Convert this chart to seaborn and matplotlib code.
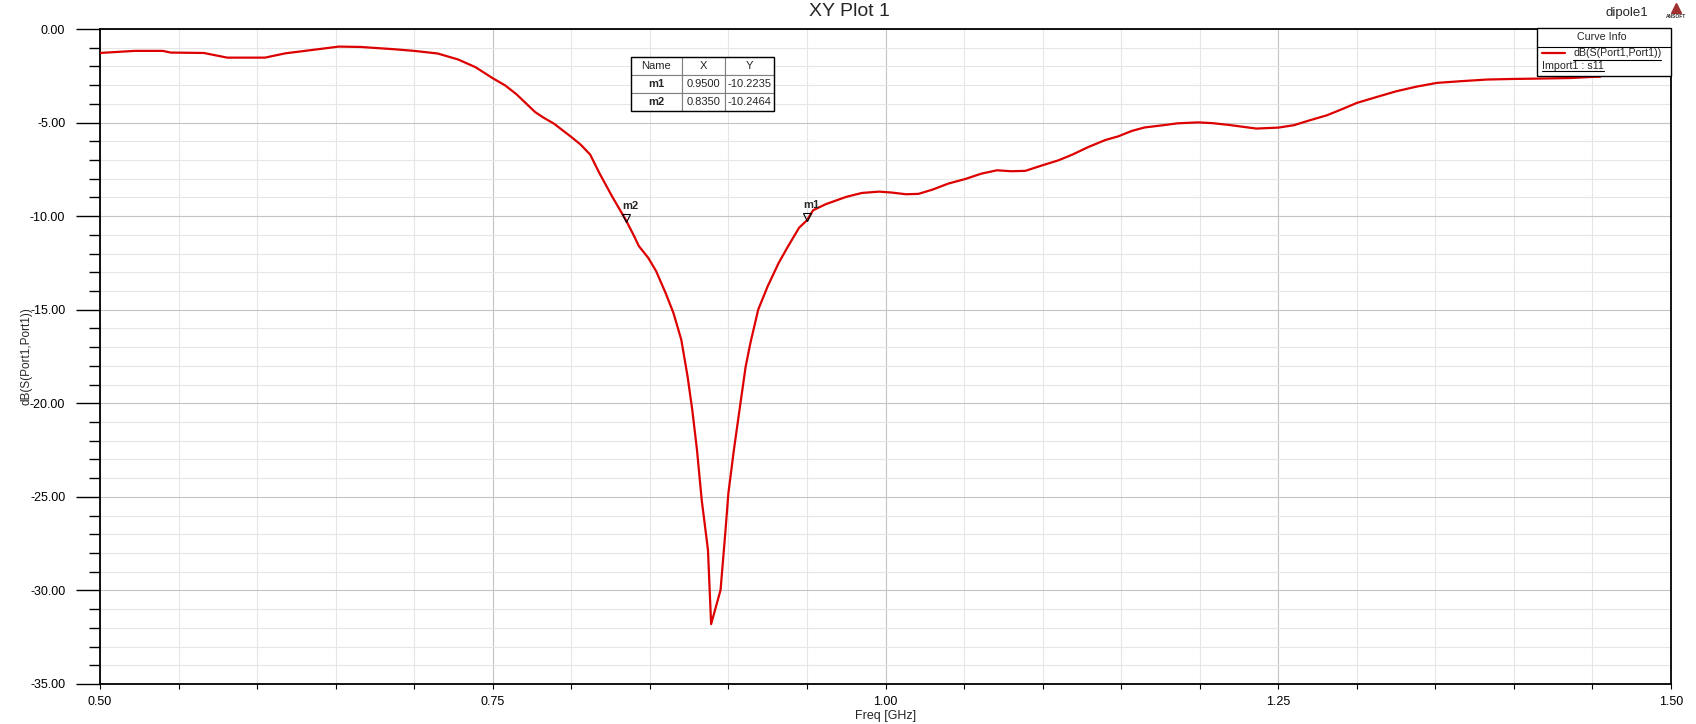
import numpy as np
import pandas as pd
import seaborn as sns
import matplotlib.pyplot as plt
from matplotlib.ticker import MultipleLocator, FormatStrFormatter
from matplotlib.patches import Rectangle
from matplotlib.lines import Line2D
from matplotlib.transforms import ScaledTranslation, IdentityTransform

# S11 curve (GHz, dB)
freq = [0.500, 0.522, 0.540, 0.545, 0.566, 0.581, 0.605, 0.618, 0.637, 0.652,
        0.666, 0.687, 0.700, 0.715, 0.728, 0.739, 0.750, 0.758, 0.765, 0.777,
        0.782, 0.789, 0.800, 0.806, 0.812, 0.818, 0.826, 0.835, 0.840, 0.843,
        0.849, 0.854, 0.860, 0.865, 0.870, 0.874, 0.877, 0.880, 0.883, 0.887,
        0.889, 0.895, 0.898, 0.900, 0.9035, 0.908, 0.911, 0.914, 0.919, 0.925,
        0.932, 0.938, 0.945, 0.950, 0.954, 0.962, 0.975, 0.985, 0.996, 1.004,
        1.013, 1.021, 1.030, 1.040, 1.051, 1.061, 1.071, 1.080, 1.089, 1.100,
        1.110, 1.119, 1.129, 1.140, 1.148, 1.157, 1.165, 1.176, 1.186, 1.199,
        1.208, 1.218, 1.236, 1.250, 1.260, 1.270, 1.281, 1.291, 1.300, 1.312,
        1.325, 1.338, 1.351, 1.366, 1.383, 1.399, 1.416, 1.436, 1.450, 1.455]
s11 = [-1.28, -1.17, -1.17, -1.26, -1.28, -1.53, -1.53, -1.30, -1.10, -0.94,
       -0.96, -1.08, -1.17, -1.31, -1.63, -2.04, -2.63, -3.02, -3.48, -4.44,
       -4.72, -5.06, -5.77, -6.18, -6.71, -7.72, -8.95, -10.25, -11.07, -11.60,
       -12.23, -12.94, -14.10, -15.17, -16.60, -18.56, -20.35, -22.49, -25.16, -27.84,
       -31.80, -29.98, -26.95, -24.80, -22.49, -19.80, -18.03, -16.78, -14.99, -13.75,
       -12.50, -11.61, -10.62, -10.22, -9.68, -9.36, -8.97, -8.76, -8.69, -8.74,
       -8.83, -8.81, -8.58, -8.26, -8.01, -7.73, -7.55, -7.60, -7.58, -7.28,
       -7.02, -6.71, -6.31, -5.93, -5.74, -5.44, -5.26, -5.15, -5.04, -4.99,
       -5.03, -5.12, -5.32, -5.27, -5.14, -4.88, -4.61, -4.27, -3.95, -3.65,
       -3.33, -3.08, -2.88, -2.79, -2.70, -2.67, -2.65, -2.62, -2.56, -2.55]

marker_names = ['m1', 'm2']
marker_x = [0.9500, 0.8350]
marker_y = [-10.2235, -10.2464]

W, H = 1696, 724
RED = '#dd0000'


def fx(x):
    return x / W


def fy(y):
    return 1 - y / H


sns.set_theme(style='white')
plt.rcParams['font.family'] = ['Liberation Sans', 'DejaVu Sans']

fig = plt.figure(figsize=(W / 100, H / 100), dpi=100)
ax = fig.add_axes([fx(100), fy(684), (1671 - 100) / W, (684 - 29) / H])

df = pd.DataFrame({'freq': freq, 's11': s11})
sns.lineplot(data=df, x='freq', y='s11', color=RED, linewidth=1.6, ax=ax, zorder=3)

ax.set_xlim(0.5, 1.5)
ax.set_ylim(-35, 0)
ax.xaxis.set_major_locator(MultipleLocator(0.25))
ax.xaxis.set_minor_locator(MultipleLocator(0.05))
ax.yaxis.set_major_locator(MultipleLocator(5))
ax.yaxis.set_minor_locator(MultipleLocator(1))
ax.xaxis.set_major_formatter(FormatStrFormatter('%.2f'))
ax.yaxis.set_major_formatter(FormatStrFormatter('%.2f'))

ax.tick_params(axis='y', which='major', left=True, direction='out', length=17,
               width=1, pad=8, labelsize=9, colors='black')
ax.tick_params(axis='y', which='minor', left=True, direction='out', length=8,
               width=1, color='black')
ax.tick_params(axis='x', which='both', bottom=True, direction='out', length=3.6,
               width=0.8, pad=5, labelsize=9, colors='black')

ax.grid(which='major', color='#c4c4c4', linewidth=0.8)
ax.grid(which='minor', color='#e6e6e6', linewidth=0.8)
ax.set_axisbelow(True)
for side in ['left', 'bottom', 'top', 'right']:
    ax.spines[side].set_visible(True)
    ax.spines[side].set_color('black')
    ax.spines[side].set_linewidth(1.3)

ax.set_xlabel('Freq [GHz]', fontsize=9)
ax.xaxis.set_label_coords(0.5, -0.040)
ax.set_ylabel('dB(S(Port1,Port1))', fontsize=8.5)
ax.yaxis.set_label_coords(-0.043, 0.5)

# markers on the curve
shift = ScaledTranslation(0, 3 / 100, fig.dpi_scale_trans)
for name, mx, my in zip(marker_names, marker_x, marker_y):
    ax.plot(mx, my, marker='v', ms=6, mfc='none', mec='black', mew=0.8,
            transform=ax.transData + shift, zorder=4)
    ax.annotate(name, (mx, my), xytext=(-4, 10), textcoords='offset pixels',
                fontsize=8, fontweight='bold', ha='left', va='bottom', zorder=4)

# marker table
cell_text = [['Name', 'X', 'Y']] + [[n, '%.4f' % x, '%.4f' % y]
                                   for n, x, y in zip(marker_names, marker_x, marker_y)]
tx0, ty0, tw, th = 0.3378, 0.8748, 0.0912, 0.082
tbl = ax.table(cellText=cell_text, cellLoc='center', bbox=[tx0, ty0, tw, th],
               colWidths=[51, 43, 49])
tbl.auto_set_font_size(False)
tbl.set_fontsize(8)
tbl.set_zorder(6)
for (r, c), cell in tbl.get_celld().items():
    cell.set_edgecolor('#808080')
    cell.set_linewidth(0.8)
    cell.set_facecolor('white')
    if r > 0 and c == 0:
        cell.get_text().set_fontweight('bold')
ax.add_patch(Rectangle((tx0, ty0), tw, th, transform=ax.transAxes, fill=False,
                       ec='black', lw=1.0, zorder=7, clip_on=False))

# header texts
fig.text(fx(849), fy(11), 'XY Plot 1', ha='center', va='center', fontsize=14)
fig.text(fx(1606), fy(13), 'dipole1', ha='left', va='center', fontsize=9.5)
fig.add_artist(Line2D([fx(1676)], [fy(8)], marker='^', ms=7, color='#a03030',
                      transform=fig.transFigure))
fig.text(fx(1676), fy(17), 'ANSOFT', ha='center', va='center', fontsize=3.5,
         fontweight='bold', color='#303030')

# curve info box
fig.add_artist(Rectangle((fx(1537), fy(76)), (1671 - 1537) / W, (76 - 28) / H,
                         transform=fig.transFigure, fc='white', ec='black', lw=1.0, zorder=5))
fig.add_artist(Line2D([fx(1537), fx(1671)], [fy(46.5), fy(46.5)], color='black',
                      lw=0.8, transform=fig.transFigure, zorder=6))
fig.text(fx(1602), fy(37), 'Curve Info', ha='center', va='center', fontsize=7.7, zorder=6)
fig.add_artist(Line2D([fx(1542), fx(1565)], [fy(53), fy(53)], color=RED, lw=1.6,
                      transform=fig.transFigure, zorder=6))
t1 = fig.text(fx(1573), fy(53), 'dB(S(Port1,Port1))', ha='left', va='center',
              fontsize=7.7, zorder=6)
t2 = fig.text(fx(1542), fy(66), 'Import1 : s11', ha='left', va='center',
              fontsize=7.7, zorder=6)

fig.canvas.draw()
for t, uy in [(t1, 60), (t2, 71)]:
    bb = t.get_window_extent()
    fig.add_artist(Line2D([bb.x0, bb.x1], [H - uy, H - uy], color='black', lw=0.8,
                          transform=IdentityTransform(), zorder=6))

fig.savefig('out.png', dpi=100)
